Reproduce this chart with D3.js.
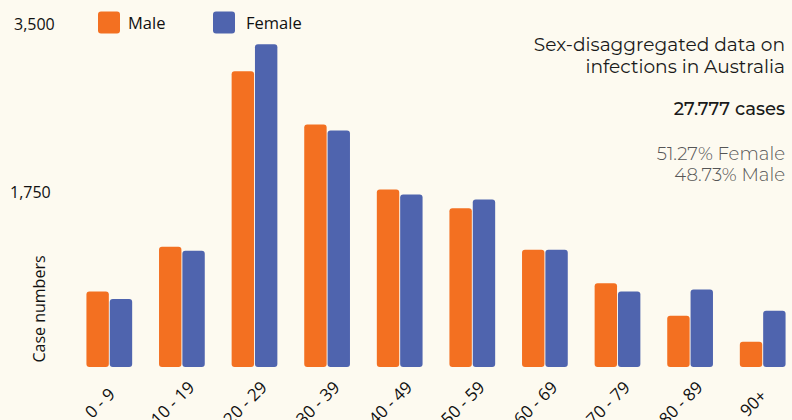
<!DOCTYPE html>
<html><head><meta charset="utf-8">
<script src="https://cdn.jsdelivr.net/npm/d3@7"></script>
<style>
html,body{margin:0;padding:0;background:#fdfaf0;}
svg{display:block;}
text{font-family:"Open Sans","Noto Sans",sans-serif;}
</style></head><body>
<svg id="c" width="792" height="420"></svg>
<script>
const categories = ["0 - 9","10 - 19","20 - 29","30 - 39","40 - 49","50 - 59","60 - 69","70 - 79","80 - 89","90+"];
const maleValues = [745, 1200, 2980, 2440, 1780, 1590, 1170, 830, 500, 235];
const femaleValues = [670, 1160, 3255, 2380, 1730, 1680, 1170, 745, 765, 550];
const seriesNames = ["Male","Female"];
const seriesColors = ["#f37021","#4f64ae"];
const yTicks = [1750, 3500];
const titleLines = ["Sex-disaggregated data on","infections in Australia"];
const totalLabel = "27.777 cases";
const shareLines = ["51.27% Female","48.73% Male"];

const svg = d3.select("#c");
svg.append("rect").attr("width",792).attr("height",420).attr("fill","#fdfaf0");

const x = d3.scaleBand().domain(categories).range([73, 799]).paddingInner(0.37).paddingOuter(0.185);
const xs = d3.scaleBand().domain(seriesNames).range([0, x.bandwidth()]).paddingInner(0.04);
const y = d3.scaleLinear().domain([0, 3500]).range([365, 20]);

const data = categories.map((c,i)=>({cat:c, vals:[maleValues[i], femaleValues[i]]}));
const g = svg.append("g");
data.forEach(d=>{
  d.vals.forEach((v,j)=>{
    g.append("rect")
      .attr("x", x(d.cat)+xs(seriesNames[j]))
      .attr("y", y(v))
      .attr("width", xs.bandwidth())
      .attr("height", y(0)-y(v)+2)
      .attr("rx",3).attr("ry",3)
      .attr("fill", seriesColors[j]);
  });
});

// y labels
const yAxis = d3.axisLeft(y).tickValues(yTicks).tickFormat(d3.format(",")).tickSize(0);
const ya = svg.append("g").call(yAxis);
ya.select(".domain").remove();
const yLabelShift = {1750:[10,5], 3500:[14,10]};
ya.selectAll(".tick").attr("transform", d=>`translate(${yLabelShift[d][0]},${y(d)+yLabelShift[d][1]})`);
ya.selectAll("text").attr("font-size",16).attr("fill","#111").attr("x",0).attr("dy",0)
  .attr("text-anchor","start")
  .style("font-family",'"Open Sans","Noto Sans",sans-serif');
svg.append("text").attr("transform","translate(45,309) rotate(-90)")
  .attr("text-anchor","middle").attr("font-size",16).attr("fill","#111").text("Case numbers");

// x labels
const xAxis = d3.axisBottom(x).tickSize(0);
const xa = svg.append("g").call(xAxis);
xa.select(".domain").remove();
xa.selectAll(".tick").attr("transform", d=>`translate(${x(d)+x.bandwidth()/2-9},403.5)`);
xa.selectAll("text").attr("font-size",17).attr("fill","#111")
  .style("font-family",'"Open Sans","Noto Sans",sans-serif')
  .attr("text-anchor","middle").attr("y",0).attr("dx",0).attr("dy","0.32em")
  .attr("transform","rotate(-45)");

// legend
const lg = svg.append("g");
[[98,128],[213,246]].forEach((p,i)=>{
  lg.append("rect").attr("x",p[0]).attr("y",11.5).attr("width",22).attr("height",22).attr("rx",3).attr("fill",seriesColors[i]);
  lg.append("text").attr("x",p[1]).attr("y",29).attr("font-size",16.5).attr("fill","#111").text(seriesNames[i]);
});

// title block
const tf = 'Montserrat,"DejaVu Sans",sans-serif';
titleLines.forEach((t,i)=>{
  svg.append("text").attr("x",785).attr("y",51+i*22).attr("text-anchor","end")
    .attr("font-size",18.6).attr("fill","#1a1a1a").style("font-family",tf).text(t);
});
svg.append("text").attr("x",785).attr("y",115).attr("text-anchor","end")
  .attr("font-size",18).attr("font-weight",500).attr("fill","#1a1a1a").style("font-family",tf).text(totalLabel);
shareLines.forEach((t,i)=>{
  svg.append("text").attr("x",785).attr("y",160+i*21).attr("text-anchor","end")
    .attr("font-size",18.2).attr("font-weight",300).attr("fill","#555").style("font-family",tf).text(t);
});
</script>
</body></html>
